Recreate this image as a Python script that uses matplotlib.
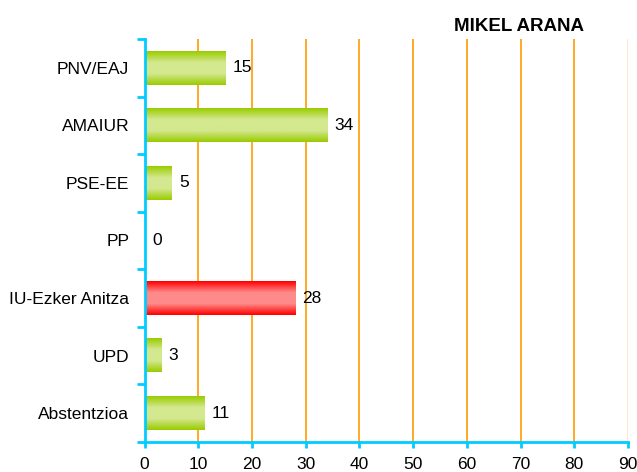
import numpy as np
import matplotlib.pyplot as plt
from matplotlib.colors import LinearSegmentedColormap

categories = ["PNV/EAJ", "AMAIUR", "PSE-EE", "PP", "IU-Ezker Anitza", "UPD", "Abstentzioa"]
values = [15, 34, 5, 0, 28, 3, 11]
highlight = "IU-Ezker Anitza"
title = "MIKEL ARANA"

plt.rcParams['font.family'] = ['Liberation Sans', 'DejaVu Sans']

green = LinearSegmentedColormap.from_list("g", ["#99cc00", "#d4e88f", "#d4e88f", "#99cc00"])
red = LinearSegmentedColormap.from_list("r", ["#ff0000", "#ff8a8a", "#ff8a8a", "#ff0000"])

fig = plt.figure(figsize=(6.37, 4.72), dpi=100)
ax = fig.add_axes([0.227, 0.064, 0.759, 0.853])

n = len(categories)
ypos = np.arange(n)[::-1]
bar_h = 0.59
grad = np.linspace(0, 1, 64).reshape(-1, 1)

ax.set_xlim(0, 90)
ax.set_ylim(-0.5, n - 0.5)

for y, v, c in zip(ypos, values, categories):
    if v > 0:
        cmap = red if c == highlight else green
        ax.imshow(grad, cmap=cmap, aspect='auto', zorder=3,
                  extent=(0, v, y - bar_h / 2, y + bar_h / 2))
    ax.text(v + 1.4, y, str(v), va='center', ha='left', fontsize=12.5, zorder=4)

for gx in range(10, 90, 10):
    ax.axvline(gx, color='#ff9900', lw=1.2, zorder=1)
ax.axvline(90, color='#fde3c8', lw=1.2, zorder=1)

ax.set_yticks(ypos)
ax.set_yticklabels(categories, fontsize=12.5)
ax.set_yticks(np.arange(-0.5, n, 1), minor=True)
ax.tick_params(axis='y', which='major', length=0, pad=11)
ax.tick_params(axis='y', which='minor', length=5.5, width=2, color='#00ccff', direction='out')

ax.set_xticks(range(0, 91, 10))
ax.tick_params(axis='x', length=4, width=2, color='#00ccff', labelsize=12.5, pad=7)

for side in ['top', 'right']:
    ax.spines[side].set_visible(False)
for side in ['left', 'bottom']:
    ax.spines[side].set_color('#00ccff')
    ax.spines[side].set_linewidth(2)
    ax.spines[side].set_zorder(5)

fig.text(0.815, 0.934, title, ha='center', va='baseline', fontsize=13.5, fontweight='bold')

plt.savefig("out.png")
plt.close()
